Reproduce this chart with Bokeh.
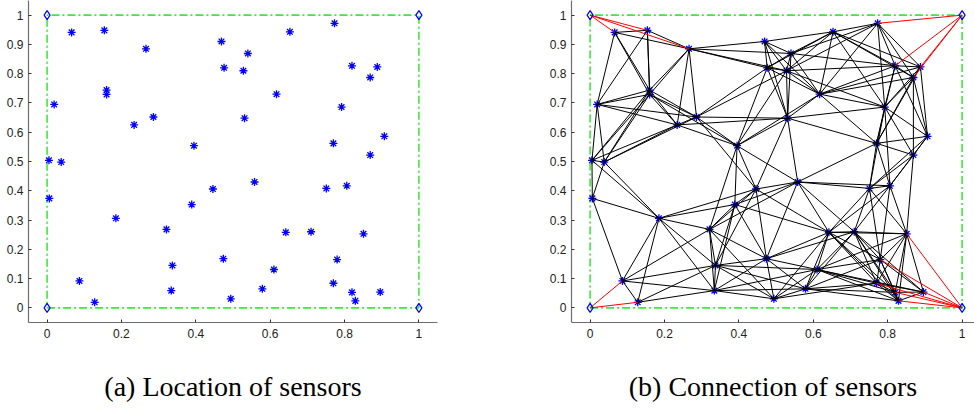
from bokeh.plotting import figure
from bokeh.layouts import row
from bokeh.models import Title
from bokeh.embed import file_html
from bokeh.resources import INLINE
import math

# ---- data ----
sensor_x = [0.066, 0.154, 0.266, 0.019, 0.160, 0.160, 0.234, 0.286, 0.395, 0.005,
            0.038, 0.469, 0.476, 0.653, 0.773, 0.540, 0.528, 0.820, 0.888, 0.869,
            0.617, 0.792, 0.531, 0.907, 0.770, 0.869, 0.006, 0.185, 0.321, 0.389,
            0.446, 0.337, 0.474, 0.087, 0.128, 0.334, 0.494, 0.558, 0.751, 0.806,
            0.642, 0.710, 0.851, 0.780, 0.610, 0.579, 0.770, 0.820, 0.829, 0.896]
sensor_y = [0.941, 0.948, 0.885, 0.695, 0.744, 0.729, 0.625, 0.652, 0.554, 0.504,
            0.498, 0.910, 0.820, 0.943, 0.972, 0.869, 0.810, 0.827, 0.823, 0.787,
            0.730, 0.686, 0.648, 0.586, 0.562, 0.522, 0.374, 0.306, 0.268, 0.353,
            0.406, 0.145, 0.168, 0.092, 0.019, 0.059, 0.031, 0.430, 0.408, 0.417,
            0.258, 0.260, 0.253, 0.165, 0.131, 0.065, 0.084, 0.053, 0.024, 0.054]
anchor_x = [0, 1, 1, 0]
anchor_y = [0, 0, 1, 1]
radio_range = 0.3

x_ticks = [0, 0.2, 0.4, 0.6, 0.8, 1]
x_tick_labels = ["0", "0.2", "0.4", "0.6", "0.8", "1"]
y_ticks = [0, 0.1, 0.2, 0.3, 0.4, 0.5, 0.6, 0.7, 0.8, 0.9, 1]
y_tick_labels = ["0", "0.1", "0.2", "0.3", "0.4", "0.5", "0.6", "0.7", "0.8", "0.9", "1"]
captions = ["(a) Location of sensors", "(b) Connection of sensors"]

# ---- connectivity (links within radio range) ----
sens_xs, sens_ys = [], []
n = len(sensor_x)
for i in range(n):
    for j in range(i + 1, n):
        if math.hypot(sensor_x[i] - sensor_x[j], sensor_y[i] - sensor_y[j]) <= radio_range:
            sens_xs.append([sensor_x[i], sensor_x[j]])
            sens_ys.append([sensor_y[i], sensor_y[j]])
anc_xs, anc_ys = [], []
for a in range(len(anchor_x)):
    for i in range(n):
        if math.hypot(anchor_x[a] - sensor_x[i], anchor_y[a] - sensor_y[i]) <= radio_range:
            anc_xs.append([anchor_x[a], sensor_x[i]])
            anc_ys.append([anchor_y[a], sensor_y[i]])

box_x = anchor_x + anchor_x[:1]
box_y = anchor_y + anchor_y[:1]

GREEN = "#3ee83e"
BLUE = "#0000ff"


def make_fig(frame_w, border_left, border_right, x_end, caption, cap_offset):
    p = figure(frame_width=frame_w, frame_height=322,
               x_range=(-0.05, x_end), y_range=(-0.05, 1.05),
               output_backend="svg", toolbar_location=None,
               min_border_left=border_left, min_border_right=border_right,
               min_border_top=0, min_border_bottom=95)
    p.outline_line_color = None
    p.grid.visible = False
    p.background_fill_color = "white"
    p.border_fill_color = "white"
    for ax, ticks, labels in ((p.xaxis, x_ticks, x_tick_labels), (p.yaxis, y_ticks, y_tick_labels)):
        ax.ticker = ticks
        ax.major_label_overrides = dict(zip(ticks, labels))
        ax.axis_line_color = "#6e6e6e"
        ax.axis_line_width = 1.2
        ax.major_tick_line_color = "#333333"
        ax.major_tick_in = 3
        ax.major_tick_out = 0
        ax.minor_tick_line_color = None
        ax.major_label_text_font = "Liberation Sans"
        ax.major_label_text_font_size = "12px"
        ax.major_label_text_color = "#222222"
    p.xaxis.major_label_standoff = 6
    p.yaxis.major_label_standoff = 5
    p.line(box_x, box_y, line_color=GREEN, line_width=1.6, line_dash="8 3 2 3")
    p.add_layout(Title(text=caption, align="center", offset=cap_offset, standoff=56,
                       text_font="Liberation Serif", text_font_size="28px",
                       text_font_style="normal", text_color="black"), "below")
    return p


p1 = make_fig(409, 28, 63, 1.05, captions[0], 0)
p1.scatter(sensor_x, sensor_y, marker="asterisk", size=8, line_color=BLUE, line_width=1.3)
p1.scatter(anchor_x, anchor_y, marker="diamond", size=9, line_color=BLUE,
           fill_color=None, line_width=1.2)

p2 = make_fig(403, 71, 0, 1.0333, captions[1], 2)
p2.scatter(sensor_x, sensor_y, marker="asterisk", size=8, line_color=BLUE, line_width=1.3)
p2.multi_line(sens_xs, sens_ys, line_color="black", line_width=1)
p2.multi_line(anc_xs, anc_ys, line_color="#ff0000", line_width=1)
p2.scatter(anchor_x, anchor_y, marker="diamond", size=9, line_color=BLUE,
           fill_color=None, line_width=1.2)

layout = row(p1, p2)
open("out.html", "w").write(file_html(layout, INLINE))
